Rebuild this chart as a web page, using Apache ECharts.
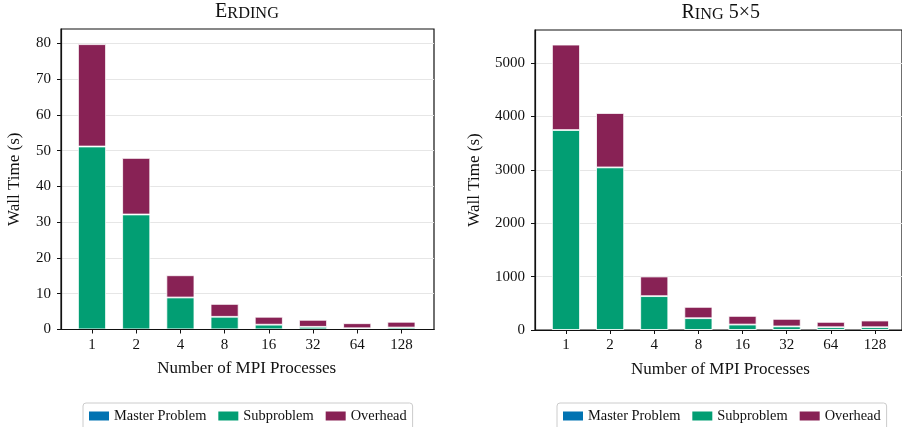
<!DOCTYPE html>
<html>
<head>
<meta charset="utf-8">
<script src="https://cdn.jsdelivr.net/npm/echarts@6/dist/echarts.min.js"></script>
<style>
  html, body { margin: 0; padding: 0; background: #fff; }
  #chart { width: 902px; height: 427px; }
</style>
</head>
<body>
<div id="chart"></div>
<script>
// number of MPI processes
var categories = ["1", "2", "4", "8", "16", "32", "64", "128"];

// Erding (seconds)
var erdingMaster = [0.05, 0.05, 0.05, 0.05, 0.05, 0.05, 0.05, 0.05];
var erdingSub = [51.1, 32.1, 8.9, 3.5, 1.3, 0.7, 0.3, 0.5];
var erdingOverhead = [28.6, 15.8, 6.2, 3.6, 2.2, 1.95, 1.4, 1.6];

// Ring 5x5 (seconds)
var ringMaster = [2, 2, 2, 2, 2, 2, 2, 2];
var ringSub = [3744, 3044, 632, 219, 100, 65, 50, 50];
var ringOverhead = [1600, 1019, 368, 212, 162, 141, 100, 125];

var erdingTicks = [0, 10, 20, 30, 40, 50, 60, 70, 80];
var ringTicks = [0, 1000, 2000, 3000, 4000, 5000];

var seriesNames = ["Master Problem", "Subproblem", "Overhead"];
var colors = ["#0173b2", "#029e73", "#882255"];

var FONT = '"Liberation Serif", "DejaVu Serif", serif';
var INK = "#111";

// frame axes: box, bottom spine, gridlines and y labels
function frameX(gridIndex) {
  return {
    type: "value", gridIndex: gridIndex, min: 0, max: 1, z: 3,
    axisLine: { show: true, onZero: false, lineStyle: { color: INK, width: 1.2 } },
    axisTick: { show: false },
    axisLabel: { show: false },
    splitLine: { show: false }
  };
}

function frameY(gridIndex, max, ticks, gap) {
  return {
    type: "value", gridIndex: gridIndex, min: 0, max: max, z: 0,
    name: "Wall Time (s)",
    nameLocation: "middle",
    nameGap: gap,
    nameTextStyle: { fontFamily: FONT, fontSize: 17, color: INK },
    axisLine: { show: true, onZero: false, lineStyle: { color: INK, width: 1.2 } },
    axisTick: { show: true, length: 4, customValues: ticks, lineStyle: { color: INK } },
    axisLabel: {
      customValues: ticks, margin: 10,
      fontFamily: FONT, fontSize: 15, color: INK,
      formatter: function (v) { return String(v); }
    },
    splitLine: { show: true, lineStyle: { color: "#e6e6e6", width: 1 } }
  };
}

// bar axes: categories inside the frame, with matplotlib-like margins
function barX(gridIndex) {
  return {
    type: "category", gridIndex: gridIndex, data: categories, z: 3,
    name: "Number of MPI Processes",
    nameLocation: "middle",
    nameGap: 31,
    nameTextStyle: { fontFamily: FONT, fontSize: 17, color: INK },
    axisLine: { show: false },
    axisTick: { show: true, alignWithLabel: true, length: 4, lineStyle: { color: INK } },
    axisLabel: { margin: 8, fontFamily: FONT, fontSize: 15, color: INK },
    splitLine: { show: false }
  };
}

function barY(gridIndex, max) {
  return { type: "value", gridIndex: gridIndex, min: 0, max: max, show: false };
}

function barSeries(name, vals, axisIndex, stack, color) {
  return {
    name: name,
    type: "bar",
    stack: stack,
    xAxisIndex: axisIndex,
    yAxisIndex: axisIndex,
    barWidth: 28,
    data: vals,
    itemStyle: { color: color, borderColor: "#fff", borderWidth: 0.8 }
  };
}

function legendAt(left) {
  return {
    left: left,
    top: 403,
    data: seriesNames,
    icon: "rect",
    itemWidth: 20,
    itemHeight: 9,
    itemGap: 12,
    padding: [6, 6, 12, 6],
    borderColor: "#ccc",
    borderWidth: 1,
    borderRadius: 3,
    itemStyle: { borderWidth: 0 },
    textStyle: { fontFamily: FONT, fontSize: 14.4, color: INK }
  };
}

var capsRich = {
  a: { fontFamily: FONT, fontSize: 20, fontWeight: "normal", color: INK, verticalAlign: "bottom" },
  b: { fontFamily: FONT, fontSize: 16.3, fontWeight: "normal", color: INK, verticalAlign: "bottom" }
};

var chart = echarts.init(document.getElementById("chart"));

chart.setOption({
  animation: false,
  backgroundColor: "#fff",
  title: [
    { text: "{a|E}{b|RDING}", left: 247, top: 2, padding: 0, textAlign: "center",
      textStyle: { fontWeight: "normal", rich: capsRich } },
    { text: "{a|R}{b|ING}{a| 5×5}", left: 720.7, top: 2.5, padding: 0, textAlign: "center",
      textStyle: { fontWeight: "normal", rich: capsRich } }
  ],
  legend: [legendAt(83), legendAt(557)],
  grid: [
    { left: 61, top: 29, width: 373, height: 300.5, show: true, borderColor: INK, borderWidth: 1.2 },
    { left: 69.9, top: 29, width: 353.6, height: 300.5 },
    { left: 535, top: 30, width: 371, height: 300, show: true, borderColor: INK, borderWidth: 1.2 },
    { left: 543.9, top: 30, width: 353.1, height: 300 }
  ],
  xAxis: [frameX(0), barX(1), frameX(2), barX(3)],
  yAxis: [
    frameY(0, 84, erdingTicks, 38), barY(1, 84),
    frameY(2, 5620, ringTicks, 52), barY(3, 5620)
  ],
  series: [
    barSeries(seriesNames[0], erdingMaster, 1, "erding", colors[0]),
    barSeries(seriesNames[1], erdingSub, 1, "erding", colors[1]),
    barSeries(seriesNames[2], erdingOverhead, 1, "erding", colors[2]),
    barSeries(seriesNames[0], ringMaster, 3, "ring", colors[0]),
    barSeries(seriesNames[1], ringSub, 3, "ring", colors[1]),
    barSeries(seriesNames[2], ringOverhead, 3, "ring", colors[2])
  ]
});
</script>
</body>
</html>
